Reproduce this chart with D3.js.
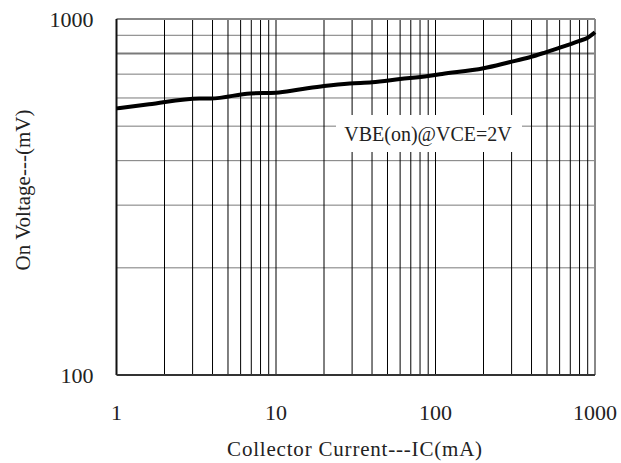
<html>
<head>
  <script src="https://d3js.org/d3.v7.min.js"></script>
  <style>
    body { margin: 0; background: #fff; }
    text { font-family: "Liberation Serif", "DejaVu Serif", serif; fill: #222; }
  </style>
</head>
<body>
  <div id="chart"></div>
  <script>
    // Collector current (mA) and base-emitter on voltage (mV)
    var ic  = [1, 1.6, 3.3, 3.9, 6.9, 10, 14, 20, 29, 40, 60, 90, 110, 200, 290, 390, 490, 590, 800, 900, 1000];
    var vbe = [561, 576, 598, 598, 618, 621, 634, 648, 659, 664, 678, 692, 701, 727, 756, 781, 806, 828, 868, 886, 918];

    var xTicks = [1, 10, 100, 1000];
    var yTicks = [100, 1000];
    var xGrid = [2,3,4,5,6,7,8,9,10,20,30,40,50,60,70,80,90,100,200,300,400,500,600,700,800,900];
    var yGrid = [200, 300, 400, 500, 600, 700, 800, 900];

    var margin = {top: 19, right: 26, bottom: 88, left: 116.5},
        width = 621 - margin.left - margin.right,
        height = 463 - margin.top - margin.bottom;

    var svg = d3.select("#chart").append("svg")
        .attr("width", 621)
        .attr("height", 463)
      .append("g")
        .attr("transform", "translate(" + margin.left + "," + margin.top + ")");

    var x = d3.scaleLog().domain([1, 1000]).range([0, width]);
    var y = d3.scaleLog().domain([100, 1000]).range([height, 0]);

    // grid
    svg.selectAll(".hgrid").data(yGrid).enter().append("line")
        .attr("x1", 0).attr("x2", width)
        .attr("y1", function(d) { return y(d); })
        .attr("y2", function(d) { return y(d); })
        .attr("stroke", "#7a7a7a")
        .attr("stroke-width", function(d) { return d == 800 ? 2 : 1; });

    svg.selectAll(".vgrid").data(xGrid).enter().append("line")
        .attr("y1", 0).attr("y2", height)
        .attr("x1", function(d) { return x(d); })
        .attr("x2", function(d) { return x(d); })
        .attr("stroke", "#000")
        .attr("stroke-width", 1);

    // frame: gray top/right, black left/bottom
    svg.append("line").attr("x1", 0).attr("x2", width).attr("y1", 0).attr("y2", 0)
        .attr("stroke", "#888").attr("stroke-width", 2);
    svg.append("line").attr("x1", width).attr("x2", width).attr("y1", 0).attr("y2", height)
        .attr("stroke", "#888").attr("stroke-width", 2);
    svg.append("line").attr("x1", 0).attr("x2", 0).attr("y1", 0).attr("y2", height)
        .attr("stroke", "#111").attr("stroke-width", 2);
    svg.append("line").attr("x1", 0).attr("x2", width).attr("y1", height).attr("y2", height)
        .attr("stroke", "#333").attr("stroke-width", 2);

    // annotation box
    var label = svg.append("g").attr("transform", "translate(" + (428 - margin.left) + "," + (133 - margin.top) + ")");
    label.append("rect")
        .attr("x", -92).attr("y", -18).attr("width", 186).attr("height", 37)
        .attr("fill", "#fff");
    label.append("text")
        .attr("text-anchor", "middle")
        .attr("y", 8)
        .style("font-size", "20px")
        .text("VBE(on)@VCE=2V");

    // curve
    var line = d3.line()
        .x(function(d, i) { return x(ic[i]); })
        .y(function(d) { return y(d); })
        .curve(d3.curveMonotoneX);

    svg.append("path")
        .datum(vbe)
        .attr("fill", "none")
        .attr("stroke", "#000")
        .attr("stroke-width", 4)
        .attr("d", line);

    // tick labels
    svg.selectAll(".xt").data(xTicks).enter().append("text")
        .attr("x", function(d) { return x(d); })
        .attr("y", height + 45)
        .attr("text-anchor", "middle")
        .style("font-size", "22px")
        .text(function(d) { return d; });

    svg.selectAll(".yt").data(yTicks).enter().append("text")
        .attr("x", -23)
        .attr("y", function(d) { return y(d) + 8; })
        .attr("text-anchor", "end")
        .style("font-size", "22px")
        .text(function(d) { return d; });

    // axis titles
    svg.append("text")
        .attr("x", 355 - margin.left)
        .attr("y", height + 81)
        .attr("text-anchor", "middle")
        .style("font-size", "21px")
        .style("letter-spacing", "0.8px")
        .text("Collector Current---IC(mA)");

    svg.append("text")
        .attr("transform", "rotate(-90)")
        .attr("x", -(190 - margin.top))
        .attr("y", 30 - margin.left)
        .attr("text-anchor", "middle")
        .style("font-size", "21px")
        .text("On Voltage---(mV)");
  </script>
</body>
</html>
